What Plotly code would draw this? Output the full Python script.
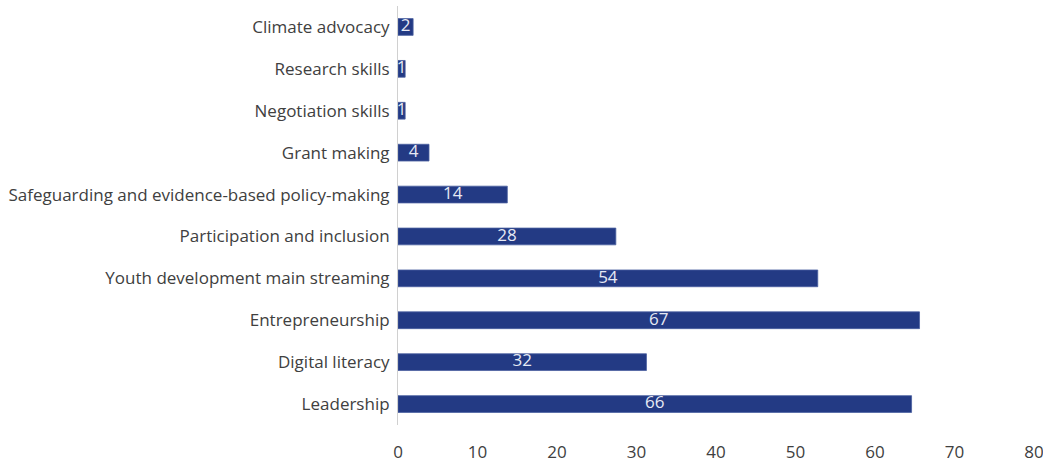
import plotly.graph_objects as go

categories = [
    "Climate advocacy",
    "Research skills",
    "Negotiation skills",
    "Grant making",
    "Safeguarding and evidence-based policy-making",
    "Participation and inclusion",
    "Youth development main streaming",
    "Entrepreneurship",
    "Digital literacy",
    "Leadership",
]
bar_lengths = [1.9, 0.9, 0.9, 3.9, 13.75, 27.4, 52.8, 65.6, 31.25, 64.6]
value_labels = ["2", "1", "1", "4", "14", "28", "54", "67", "32", "66"]
x_ticks = [0, 10, 20, 30, 40, 50, 60, 70, 80]

BAR = "#233a84"
FONT = "Open Sans"

fig = go.Figure()
fig.add_trace(go.Bar(
    y=categories, x=bar_lengths, orientation="h",
    marker=dict(color=BAR, line=dict(color="#4a5fa0", width=0.8)),
    hoverinfo="skip",
))
fig.add_trace(go.Scatter(
    y=categories, x=[v / 2 for v in bar_lengths], mode="text",
    text=value_labels, textposition="middle center",
    textfont=dict(family=FONT, size=17, color="#e6e9f4"),
    hoverinfo="skip",
))

fig.update_layout(
    width=1043, height=462,
    margin=dict(l=398, r=9, t=6, b=37),
    paper_bgcolor="white", plot_bgcolor="white",
    showlegend=False, bargap=0.6,
    font=dict(family=FONT, size=17, color="#404040"),
)
fig.update_xaxes(
    range=[0, 80], tickvals=x_ticks, ticktext=[str(t) for t in x_ticks],
    showgrid=False, zeroline=False, showline=False, automargin=False,
    ticks="", ticklabelstandoff=15, ticklabeloverflow="allow",
    tickfont=dict(family=FONT, size=17, color="#404040"),
)
fig.update_yaxes(
    autorange="reversed", showgrid=False, zeroline=False, automargin=False,
    showline=True, linecolor="#d0d0d0", linewidth=1,
    ticks="", ticklabelstandoff=4,
    tickfont=dict(family=FONT, size=17, color="#404040"),
)

fig.write_html("out.html", config={"displayModeBar": False},
               post_script="document.body.style.margin='0';")
